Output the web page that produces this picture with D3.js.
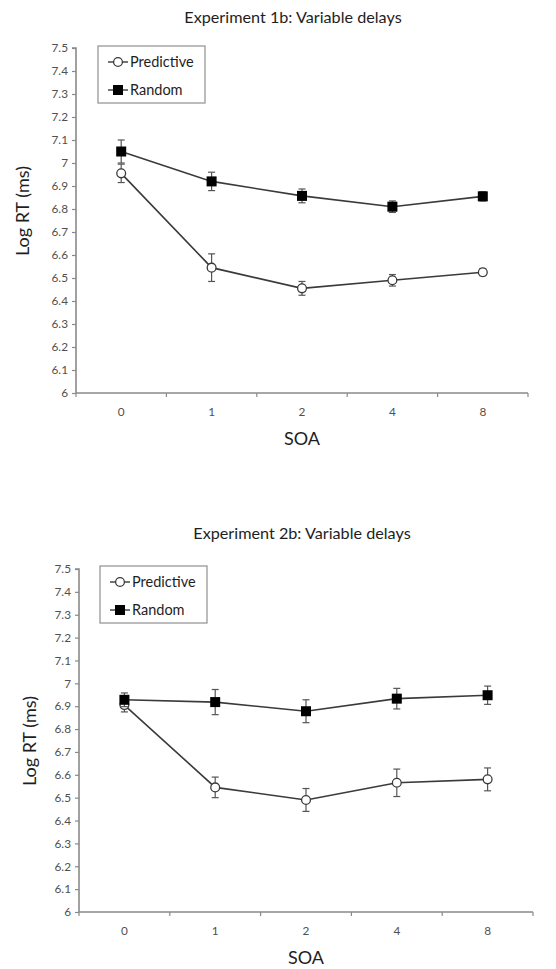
<!DOCTYPE html>
<html>
<head>
<meta charset="utf-8">
<script src="https://cdn.jsdelivr.net/npm/d3@7"></script>
<style>
  html, body { margin: 0; padding: 0; background: #fff; }
  svg { display: block; }
</style>
</head>
<body>
<svg id="chart" width="556" height="969"></svg>
<script>
// ---------- data ----------
const categories = ["0", "1", "2", "4", "8"];
const yTicks = [6, 6.1, 6.2, 6.3, 6.4, 6.5, 6.6, 6.7, 6.8, 6.9, 7, 7.1, 7.2, 7.3, 7.4, 7.5];
const seriesNames = ["Predictive", "Random"];

const titles = ["Experiment 1b: Variable delays", "Experiment 2b: Variable delays"];

const exp1Predictive    = [6.955, 6.545, 6.455, 6.490, 6.525];
const exp1PredictiveErr = [0.040, 0.060, 0.030, 0.025, 0.015];
const exp1Random        = [7.050, 6.920, 6.857, 6.810, 6.855];
const exp1RandomErr     = [0.050, 0.040, 0.030, 0.025, 0.020];

const exp2Predictive    = [6.905, 6.545, 6.490, 6.565, 6.580];
const exp2PredictiveErr = [0.030, 0.045, 0.050, 0.060, 0.050];
const exp2Random        = [6.928, 6.918, 6.878, 6.933, 6.948];
const exp2RandomErr     = [0.030, 0.055, 0.050, 0.045, 0.040];

// ---------- drawing ----------
const svg = d3.select("#chart");
const FONT = "Lato, 'Open Sans', sans-serif";
const lineColor = "#3a3a3a";
const axisColor = "#8a8a8a";

const panels = [
  { title: titles[0], titleX: 293, titleY: 23,
    left: 76, right: 528, top: 48, bottom: 393,
    ylabX: 23, ylabY: 211, soaY: 445,
    legend: { x: 98, y: 46, w: 107, h: 57 },
    series: [
      { name: seriesNames[0], values: exp1Predictive, err: exp1PredictiveErr, marker: "circle" },
      { name: seriesNames[1], values: exp1Random, err: exp1RandomErr, marker: "square" }
    ] },
  { title: titles[1], titleX: 302, titleY: 539,
    left: 79, right: 533, top: 569, bottom: 912,
    ylabX: 30, ylabY: 741, soaY: 964,
    legend: { x: 100, y: 566, w: 107, h: 57 },
    series: [
      { name: seriesNames[0], values: exp2Predictive, err: exp2PredictiveErr, marker: "circle" },
      { name: seriesNames[1], values: exp2Random, err: exp2RandomErr, marker: "square" }
    ] }
];

function drawMarker(g, type, x, y) {
  if (type === "circle") {
    g.append("circle").attr("cx", x).attr("cy", y).attr("r", 4.4)
      .attr("fill", "#fff").attr("stroke", lineColor).attr("stroke-width", 1.3);
  } else {
    g.append("rect").attr("x", x - 5).attr("y", y - 5).attr("width", 10).attr("height", 10)
      .attr("fill", "#000");
  }
}

panels.forEach(p => {
  const g = svg.append("g");
  const x = d3.scaleBand().domain(categories).range([p.left, p.right]);
  const y = d3.scaleLinear().domain([6, 7.5]).range([p.bottom, p.top]);

  // title
  g.append("text").attr("x", p.titleX).attr("y", p.titleY)
    .attr("text-anchor", "middle").attr("font-family", FONT).attr("font-size", 16.2)
    .attr("fill", "#1e1e1e").text(p.title);

  // y axis
  const yAxis = d3.axisLeft(y).tickValues(yTicks).tickSize(4).tickPadding(4)
    .tickFormat(d => d3.format("")(+d.toFixed(1)));
  const ya = g.append("g").attr("transform", `translate(${p.left},0)`).call(yAxis);
  ya.select(".domain").attr("stroke", axisColor).attr("stroke-width", 1.6).attr("d", `M-4,${p.top}H0V${p.bottom}`);
  ya.selectAll(".tick line").attr("stroke", axisColor).attr("stroke-width", 1.2);
  ya.selectAll(".tick text").attr("font-family", FONT).attr("font-size", 11.8).attr("fill", "#505050");

  // x axis: ticks at band edges
  const edges = categories.map(c => x(c)).concat([p.right]);
  const xa = g.append("g");
  xa.append("line").attr("x1", p.left).attr("x2", p.right).attr("y1", p.bottom).attr("y2", p.bottom)
    .attr("stroke", axisColor).attr("stroke-width", 1.6);
  xa.selectAll("line.xt").data(edges).join("line").attr("class", "xt")
    .attr("x1", d => d).attr("x2", d => d).attr("y1", p.bottom).attr("y2", p.bottom + 4)
    .attr("stroke", axisColor).attr("stroke-width", 1.2);
  xa.selectAll("text").data(categories).join("text")
    .attr("x", d => x(d) + x.bandwidth() / 2).attr("y", p.bottom + 23)
    .attr("text-anchor", "middle").attr("font-family", FONT).attr("font-size", 11.8).attr("fill", "#505050")
    .text(d => d);

  // axis titles
  g.append("text").attr("x", (p.left + p.right) / 2).attr("y", p.soaY)
    .attr("text-anchor", "middle").attr("font-family", FONT).attr("font-size", 18).attr("fill", "#1e1e1e")
    .text("SOA");
  g.append("text").attr("transform", `translate(${p.ylabX + 6},${p.ylabY}) rotate(-90)`)
    .attr("text-anchor", "middle").attr("font-family", FONT).attr("font-size", 18).attr("fill", "#1e1e1e")
    .text("Log RT (ms)");

  const cx = d => x(d) + x.bandwidth() / 2;

  // series
  p.series.forEach(s => {
    const pts = categories.map((c, i) => ({ c, v: s.values[i], e: s.err[i] }));
    const sg = g.append("g");
    // error bars
    pts.forEach(d => {
      const xx = cx(d.c);
      sg.append("line").attr("x1", xx).attr("x2", xx).attr("y1", y(d.v - d.e)).attr("y2", y(d.v + d.e))
        .attr("stroke", "#555").attr("stroke-width", 1.2);
      [d.v - d.e, d.v + d.e].forEach(b => {
        sg.append("line").attr("x1", xx - 3.5).attr("x2", xx + 3.5).attr("y1", y(b)).attr("y2", y(b))
          .attr("stroke", "#555").attr("stroke-width", 1.2);
      });
    });
    sg.append("path").datum(pts)
      .attr("d", d3.line().x(d => cx(d.c)).y(d => y(d.v)))
      .attr("fill", "none").attr("stroke", lineColor).attr("stroke-width", 1.6);
    pts.forEach(d => drawMarker(sg, s.marker, cx(d.c), y(d.v)));
  });

  // legend
  const L = p.legend;
  const lg = g.append("g");
  lg.append("rect").attr("x", L.x).attr("y", L.y).attr("width", L.w).attr("height", L.h)
    .attr("fill", "#fff").attr("stroke", "#999").attr("stroke-width", 1.3);
  p.series.forEach((s, i) => {
    const ly = L.y + 16 + i * 28;
    const lx = L.x + 10;
    lg.append("line").attr("x1", lx).attr("x2", lx + 20).attr("y1", ly).attr("y2", ly)
      .attr("stroke", lineColor).attr("stroke-width", 1.4);
    drawMarker(lg, s.marker, lx + 10, ly);
    lg.append("text").attr("x", lx + 22).attr("y", ly + 5)
      .attr("font-family", FONT).attr("font-size", 14.5).attr("fill", "#1e1e1e").text(s.name);
  });
});
</script>
</body>
</html>
